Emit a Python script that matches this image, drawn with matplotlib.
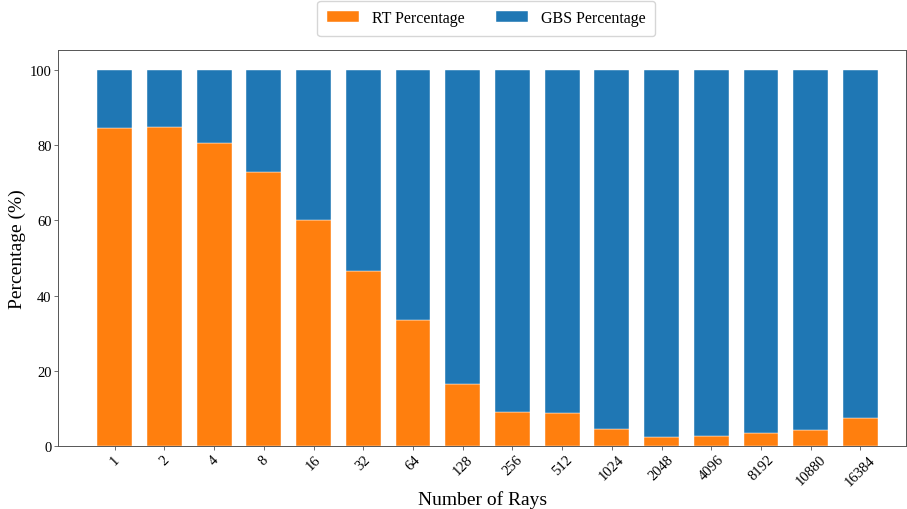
import numpy as np
import matplotlib
matplotlib.use('Agg')
import matplotlib.pyplot as plt

plt.rcParams['font.family'] = ['Liberation Serif', 'DejaVu Serif']

rays = ['1', '2', '4', '8', '16', '32', '64', '128', '256', '512',
        '1024', '2048', '4096', '8192', '10880', '16384']
rt_pct = [84.6, 84.8, 80.6, 72.9, 60.1, 46.5, 33.6, 16.6, 9.2, 8.9,
          4.7, 2.4, 2.6, 3.5, 4.4, 7.5]
gbs_pct = [100 - v for v in rt_pct]

x = np.arange(len(rays))

fig = plt.figure(figsize=(9.07, 5.10), dpi=100)
ax = fig.add_axes([0.064, 0.123, 0.935, 0.777])

ax.bar(x, rt_pct, width=0.7, color='#ff7f0e', label='RT Percentage',
       edgecolor='white', linewidth=0.3)
ax.bar(x, gbs_pct, width=0.7, bottom=rt_pct, color='#1f77b4',
       label='GBS Percentage', edgecolor='white', linewidth=0.3)

ax.set_xlim(-1.14, 15.92)
ax.set_ylim(0, 105.3)
ax.set_xticks(x)
ax.set_xticklabels(rays, rotation=45, fontsize=10.5)
ax.tick_params(axis='y', labelsize=10.5)
ax.tick_params(length=2.6, width=0.6, pad=2, color='#555555')
ax.set_yticks([0, 20, 40, 60, 80, 100])
ax.set_xlabel('Number of Rays', fontsize=14, labelpad=2)
ax.set_ylabel('Percentage (%)', fontsize=14, labelpad=3)
for s in ax.spines.values():
    s.set_color('#555555')
    s.set_linewidth(0.7)

ax.legend(loc='lower center', bbox_to_anchor=(0.505, 1.015), ncol=2,
          fontsize=11.5, frameon=True, handlelength=2.0, columnspacing=2.0,
          borderpad=0.6)

plt.savefig('out.png')
